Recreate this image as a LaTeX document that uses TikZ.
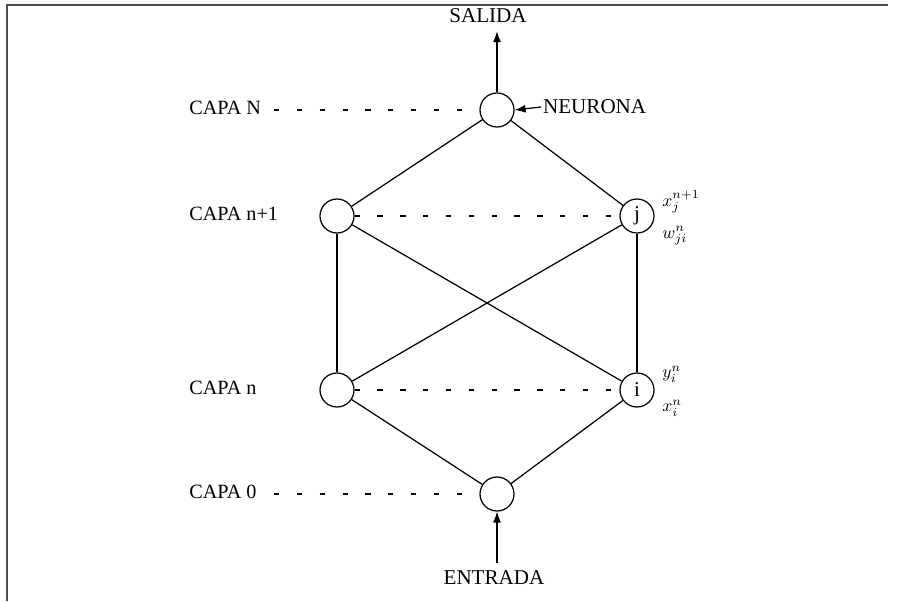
\documentclass[tikz,border=0pt]{standalone}
\usepackage{fontspec}
\setmainfont{Liberation Serif}
\usepackage{amsmath}
\usepackage{tikz}
\usetikzlibrary{
  positioning,
  arrows.meta,
  calc
}
\tikzset{
  neurona/.style={
    draw, circle, line width=0.7pt, minimum size=0.68cm, inner sep=0pt,
    font=\fontsize{12}{14}\selectfont
  },
  capalabel/.style={
    anchor=west, font=\fontsize{11.5}{14}\selectfont, inner sep=0pt
  },
  iolabel/.style={
    font=\fontsize{12}{14}\selectfont, inner sep=1pt
  },
  sublabel/.style={
    anchor=west, font=\normalsize, inner sep=0pt
  },
  conexion/.style={
    line width=0.7pt
  },
  capaline/.style={
    line width=0.6pt, dash pattern=on 3pt off 10pt
  },
  flecha/.style={
    -{Latex[length=2.2mm,width=1.6mm]}, line width=0.7pt
  }
}

\begin{document}
\begin{tikzpicture}[x=0.02cm, y=-0.02cm]
    \useasboundingbox (0,0) rectangle (924,602);
    % marco
    \draw[line width=0.8pt, black!70] (7,601) -- (7,5) -- (888,5);

    % neuronas
    \node[neurona] (top) at (497,110) {};
    \node[neurona] (l1) at (337,216) {};
    \node[neurona] (j) at (637,216) {j};
    \node[neurona] (l0) at (337,390) {};
    \node[neurona] (i) at (637,390) {i};
    \node[neurona] (bot) at (497,494) {};

    % capas
    \node[capalabel] (capaN) at (189,108) {CAPA N};
    \node[capalabel] (capan1) at (189,214) {CAPA n+1};
    \node[capalabel] (capan) at (189,388) {CAPA n};
    \node[capalabel] (capa0) at (189,492) {CAPA 0};

    \coordinate (dN) at (274,110);
    \coordinate (d0) at (274,494);
    \draw[capaline] (dN) -- (top.west);
    \draw[capaline] (l1.east) -- (j.west);
    \draw[capaline] (l0.east) -- (i.west);
    \draw[capaline] (d0) -- (bot.west);

    % conexiones
    \draw[conexion] (top) -- (l1);
    \draw[conexion] (top) -- (j);
    \draw[conexion] (l1) -- (l0);
    \draw[conexion] (j) -- (i);
    \draw[conexion] (l1) -- (i);
    \draw[conexion] (j) -- (l0);
    \draw[conexion] (l0) -- (bot);
    \draw[conexion] (i) -- (bot);

    % entrada y salida
    \node[iolabel] (salida) at (488,16) {SALIDA};
    \node[iolabel] (entrada) at (494,578) {ENTRADA};
    \node[iolabel, anchor=west] (neuronalbl) at (541,107) {NEURONA};
    \draw[flecha] (top.north) -- ($(salida.south)+(9,6)$);
    \draw[flecha] ($(entrada.north)+(3,-6)$) -- (bot.south);
    \draw[flecha] (neuronalbl.west) -- (top.east);

    % variables
    \node[sublabel] (xj) at (662,202) {$x_j^{n+1}$};
    \node[sublabel] (wji) at (662,236) {$w_{ji}^{n}$};
    \node[sublabel] (yi) at (662,374) {$y_i^{n}$};
    \node[sublabel] (xi) at (662,408) {$x_i^{n}$};
\end{tikzpicture}
\end{document}
